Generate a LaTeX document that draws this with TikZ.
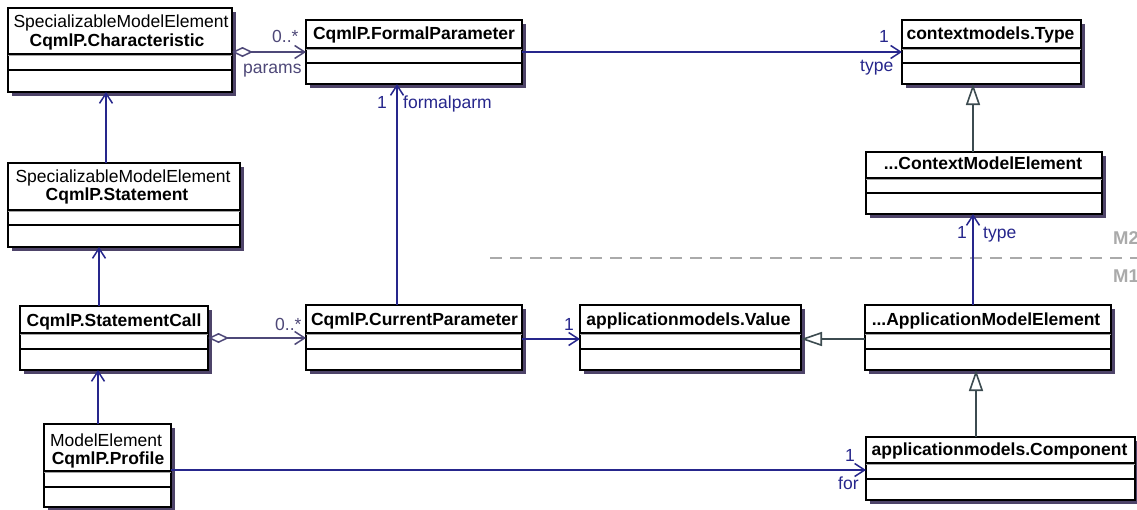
\documentclass[tikz,border=0pt]{standalone}
\usepackage{fontspec}
\setmainfont{Liberation Sans}
\usetikzlibrary{arrows.meta}
\definecolor{navyc}{RGB}{38,38,140}
\definecolor{aggc}{RGB}{78,72,120}
\definecolor{genc}{RGB}{60,75,80}
\definecolor{shadowc}{RGB}{78,68,105}
\definecolor{dashc}{RGB}{170,170,170}
\definecolor{seplite}{RGB}{165,165,165}
\tikzset{
 classbox/.style={draw=black, line width=2.4pt, fill=white, inner sep=0pt, outer sep=0pt},
 sepa/.style={black, line width=1.3pt},
 sepb/.style={seplite, line width=1.2pt},
 sepc/.style={black, line width=1.5pt},
 txt/.style={font=\fontsize{17.5}{21}\selectfont, inner sep=0pt, anchor=base},
 bold/.style={txt, font=\fontsize{17.5}{21}\selectfont\bfseries},
 lbl/.style={txt, anchor=base west, text=navyc},
 albl/.style={txt, anchor=base west, text=aggc},
 mlbl/.style={txt, anchor=base west, text=dashc, font=\fontsize{18.5}{21}\selectfont\bfseries},
 assoc/.style={navyc, line width=2pt, -{Straight Barb[length=10pt,width=13pt,line width=1.5pt]}},
 aggr/.style={aggc, line width=1.8pt, {Diamond[open,length=21pt,width=10pt,line width=1.5pt]}-{Straight Barb[length=10pt,width=13pt,line width=1.5pt]}},
 gen/.style={genc, line width=2pt, -{Triangle[open,length=21pt,width=14pt,line width=1.6pt,fill=white]}},
 levelline/.style={dashc, line width=1.8pt, dash pattern=on 12pt off 8pt},
}
\newcommand\umlbox[7]{%
 \fill[shadowc] ({#2+4},{#3+4}) rectangle ({#4+4},{#5+4});
 \node[classbox, minimum width={(#4)-(#2)}, minimum height={(#5)-(#3)}, anchor=north west] (#1) at (#2,#3) {};
 \draw[sepa] (#2,#6) -- (#4,#6);
 \draw[sepb] (#2,{#6+1.6}) -- (#4,{#6+1.6});
 \draw[sepc] (#2,#7) -- (#4,#7);
}
\begin{document}
\begin{tikzpicture}[x=1pt,y=-1pt]
\useasboundingbox (0,0) rectangle (1137,509);
\fill[white] (0,0) rectangle (1137,509);

\draw[levelline] (490,258) -- (1137,258);
\node[mlbl] (m2) at (1113,244) {M2};
\node[mlbl] (m1) at (1113,282) {M1};

\umlbox{char}{8}{8}{232}{92}{54}{70}
\node[txt] (charS) at (121,27) {SpecializableModelElement};
\node[bold] (charN) at (117,46) {CqmlP.Characteristic};

\umlbox{stmt}{8}{163}{240}{247}{210}{225}
\node[txt] (stmtS) at (123,182) {SpecializableModelElement};
\node[bold] (stmtN) at (117,200) {CqmlP.Statement};

\umlbox{call}{20}{306}{208}{370}{333}{349}
\node[bold] (callN) at (114,326) {CqmlP.StatementCall};

\umlbox{prof}{44}{424}{171}{507}{471}{487}
\node[txt] (profS) at (106,446) {ModelElement};
\node[bold] (profN) at (108,464) {CqmlP.Profile};

\umlbox{fp}{306}{20}{522}{84}{48}{63}
\node[bold] (fpN) at (414,39) {CqmlP.FormalParameter};

\umlbox{cp}{306}{305}{522}{370}{333}{349}
\node[bold] (cpN) at (414.5,325) {CqmlP.CurrentParameter};

\umlbox{val}{580}{305}{801}{370}{333}{349}
\node[bold] (valN) at (688.5,325) {applicationmodels.Value};

\umlbox{type}{902}{20}{1081}{84}{48}{63}
\node[bold] (typeN) at (990.5,39) {contextmodels.Type};

\umlbox{cme}{866}{152}{1102}{214}{178}{193}
\node[bold] (cmeN) at (983,169) {...ContextModelElement};

\umlbox{ame}{865}{305}{1111}{370}{333}{349}
\node[bold] (ameN) at (986,325) {...ApplicationModelElement};

\umlbox{comp}{866}{437}{1135}{500}{463}{479}
\node[bold] (compN) at (999.5,455) {applicationmodels.Component};

% connectors
\draw[aggr] (char.east |- fp.west) -- (fp.west);
\draw[assoc] (fp.east) -- (type.west);
\draw[assoc] ([xshift=-17pt]cp.north) -- ([xshift=-17pt]cp.north |- fp.south);
\draw[assoc] ([xshift=-18pt]stmt.north) -- ([xshift=-18pt]stmt.north |- char.south);
\draw[assoc] ([xshift=-15pt]call.north) -- ([xshift=-15pt]call.north |- stmt.south);
\draw[assoc] ([xshift=-9.5pt]prof.north) -- ([xshift=-9.5pt]prof.north |- call.south);
\draw[aggr] (call.east) -- (call.east -| cp.west);
\draw[assoc] ([yshift=-1.5pt]cp.east) -- ([yshift=-1.5pt]val.west);
\draw[gen] ([yshift=-1.5pt]ame.west) -- ([yshift=-1.5pt]val.east);
\draw[gen] ([xshift=-11pt]cme.north) -- ([xshift=-11pt]cme.north |- type.south);
\draw[assoc] ([xshift=-15pt]ame.north) -- ([xshift=-15pt]ame.north |- cme.south);
\draw[gen] ([xshift=-24.5pt]comp.north) -- ([xshift=-24.5pt]comp.north |- ame.south);
\draw[assoc] ([yshift=-4.5pt]prof.east) -- ([yshift=-4.5pt]prof.east -| comp.west);

% labels
\node[albl] (l1) at (272,42) {0..*};
\node[albl] (l2) at (243,73) {params};
\node[lbl] (l3) at (879,42) {1};
\node[lbl] (l4) at (860,71) {type};
\node[lbl] (l5) at (377,108) {1};
\node[lbl] (l6) at (403,108) {formalparm};
\node[albl] (l7) at (275,330) {0..*};
\node[lbl] (l8) at (564,330) {1};
\node[lbl] (l9) at (957,238) {1};
\node[lbl] (l10) at (983,238) {type};
\node[lbl] (l11) at (845,461) {1};
\node[lbl] (l12) at (838,489) {for};
\end{tikzpicture}
\end{document}
